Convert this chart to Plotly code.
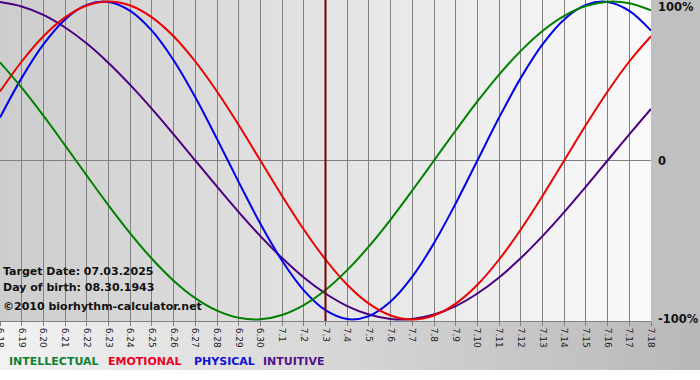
import plotly.graph_objects as go

# ---- data ----
day_labels = ["6.18", "6.19", "6.20", "6.21", "6.22", "6.23", "6.24", "6.25", "6.26", "6.27",
              "6.28", "6.29", "6.30", "7.1", "7.2", "7.3", "7.4", "7.5", "7.6", "7.7",
              "7.8", "7.9", "7.10", "7.11", "7.12", "7.13", "7.14", "7.15", "7.16", "7.17", "7.18"]

intellectual = [0.618, 0.458, 0.282, 0.095, -0.095, -0.282, -0.458, -0.618, -0.756, -0.866,
                -0.945, -0.990, -0.999, -0.972, -0.910, -0.815, -0.690, -0.541, -0.372, -0.189,
                0.000, 0.189, 0.372, 0.541, 0.690, 0.815, 0.910, 0.972, 0.999, 0.990, 0.945]
emotional = [0.434, 0.623, 0.782, 0.901, 0.975, 1.000, 0.975, 0.901, 0.782, 0.623, 0.434,
             0.223, 0.000, -0.223, -0.434, -0.623, -0.782, -0.901, -0.975, -1.000, -0.975,
             -0.901, -0.782, -0.623, -0.434, -0.223, 0.000, 0.223, 0.434, 0.623, 0.782]
physical = [0.270, 0.520, 0.731, 0.888, 0.979, 0.998, 0.942, 0.817, 0.631, 0.398, 0.136,
            -0.136, -0.398, -0.631, -0.817, -0.942, -0.998, -0.979, -0.888, -0.731, -0.520,
            -0.270, 0.000, 0.270, 0.520, 0.731, 0.888, 0.979, 0.998, 0.942, 0.817]
intuitive = [0.997, 0.969, 0.916, 0.837, 0.736, 0.614, 0.476, 0.325, 0.165, 0.000, -0.165,
             -0.325, -0.476, -0.614, -0.736, -0.837, -0.916, -0.969, -0.997, -0.997, -0.969,
             -0.916, -0.837, -0.736, -0.614, -0.476, -0.325, -0.165, 0.000, 0.165, 0.325]

series_names = ["INTELLECTUAL", "EMOTIONAL", "PHYSICAL", "INTUITIVE"]
series_colors = ["#008000", "#ee0000", "#0000ee", "#4b0082"]
legend_colors = ["#108030", "#ee0022", "#1010dd", "#55108a"]
target_label = "7.3"
info_lines = ["Target Date: 07.03.2025", "Day of birth: 08.30.1943", "©2010 biorhythm-calculator.net"]
y_labels = ["100%", "0", "-100%"]
y_label_vals = [0.965, 0.0, -1.0]

# ---- figure geometry ----
W, H = 700, 380
ML, MR, MT, MB = 0, 49, 0, 59
PW = W - ML - MR          # plot width in px
PH = H - MT - MB          # plot height in px

def px_x(px):
    return (px - ML) / PW

def px_y(py):
    return (H - MB - py) / PH

x = list(range(len(day_labels)))
fig = go.Figure()

shapes = []
# plot-area horizontal gradient (dark left -> light right)
n = 65
for i in range(n):
    t = (i + 0.5) / n
    c = int(round(205 + (250 - 205) * t))
    shapes.append(dict(type="rect", xref="paper", yref="paper",
                       x0=i / n, x1=(i + 1) / n + 0.002, y0=0, y1=1,
                       fillcolor=f"rgb({c},{c},{c})", line=dict(width=0), layer="below"))
# right margin
shapes.append(dict(type="rect", xref="paper", yref="paper", x0=1, x1=px_x(W), y0=0, y1=1,
                   fillcolor="rgb(192,192,192)", line=dict(width=0), layer="below"))
# bottom band gradient (light left -> dark right)
nb = 70
for i in range(nb):
    t = (i + 0.5) / nb
    c = int(round(242 + (184 - 242) * t))
    x0 = px_x(W * i / nb)
    x1 = px_x(W * (i + 1) / nb + 1)
    shapes.append(dict(type="rect", xref="paper", yref="paper",
                       x0=x0, x1=x1, y0=px_y(370), y1=0,
                       fillcolor=f"rgb({c},{c},{c})", line=dict(width=0), layer="below"))

# target date line
ti = day_labels.index(target_label)
shapes.append(dict(type="line", xref="x", yref="paper", x0=ti, x1=ti, y0=0, y1=1,
                   line=dict(color="#7a0000", width=2), layer="above"))

all_series = [intellectual, emotional, physical, intuitive]
for idx in [3, 2, 1, 0]:
    fig.add_trace(go.Scatter(x=x, y=all_series[idx], mode="lines", name=series_names[idx],
                             line=dict(color=series_colors[idx], width=2, shape="spline", smoothing=1.0),
                             hoverinfo="skip", showlegend=False))

annotations = []
for txt, py in zip(info_lines, [271, 287, 306]):
    annotations.append(dict(text=f"<b>{txt}</b>", xref="paper", yref="paper", x=px_x(1), y=px_y(py),
                            xanchor="left", yanchor="middle", showarrow=False,
                            font=dict(family="DejaVu Sans", size=11, color="#111111")))
for lab, v in zip(y_labels, y_label_vals):
    annotations.append(dict(text=f"<b>{lab}</b>", xref="paper", yref="y", x=px_x(656), y=v,
                            xanchor="left", yanchor="middle", showarrow=False,
                            font=dict(family="DejaVu Sans", size=11.5, color="#111111")))
leg_x = [7, 106, 192, 261]
for name, col, lx in zip(series_names, legend_colors, leg_x):
    annotations.append(dict(text=f"<b>{name}</b>", xref="paper", yref="paper", x=px_x(lx), y=px_y(361),
                            xanchor="left", yanchor="middle", showarrow=False,
                            font=dict(family="DejaVu Sans", size=11, color=col)))

fig.update_layout(
    width=W, height=H,
    margin=dict(l=ML, r=MR, t=MT, b=MB, pad=0),
    paper_bgcolor="#ffffff", plot_bgcolor="rgba(0,0,0,0)",
    shapes=shapes, annotations=annotations, showlegend=False,
    xaxis=dict(range=[0, len(day_labels) - 1], tickmode="array", tickvals=x, ticktext=day_labels,
               tickangle=90, showgrid=True, gridcolor="#808080", gridwidth=1,
               ticks="outside", ticklen=4, tickcolor="#808080", ticklabeloverflow="allow",
               showline=True, linecolor="#808080", linewidth=1, zeroline=False,
               tickfont=dict(family="DejaVu Sans", size=9, color="#222222"), automargin=False,
               fixedrange=True),
    yaxis=dict(range=[-1.01, 1.01], showgrid=False, showticklabels=False, ticks="",
               zeroline=True, zerolinecolor="#808080", zerolinewidth=1, automargin=False,
               fixedrange=True),
)

fig.write_html("out.html", config={"displayModeBar": False},
               post_script="document.body.style.margin='0';document.body.style.padding='0';")
